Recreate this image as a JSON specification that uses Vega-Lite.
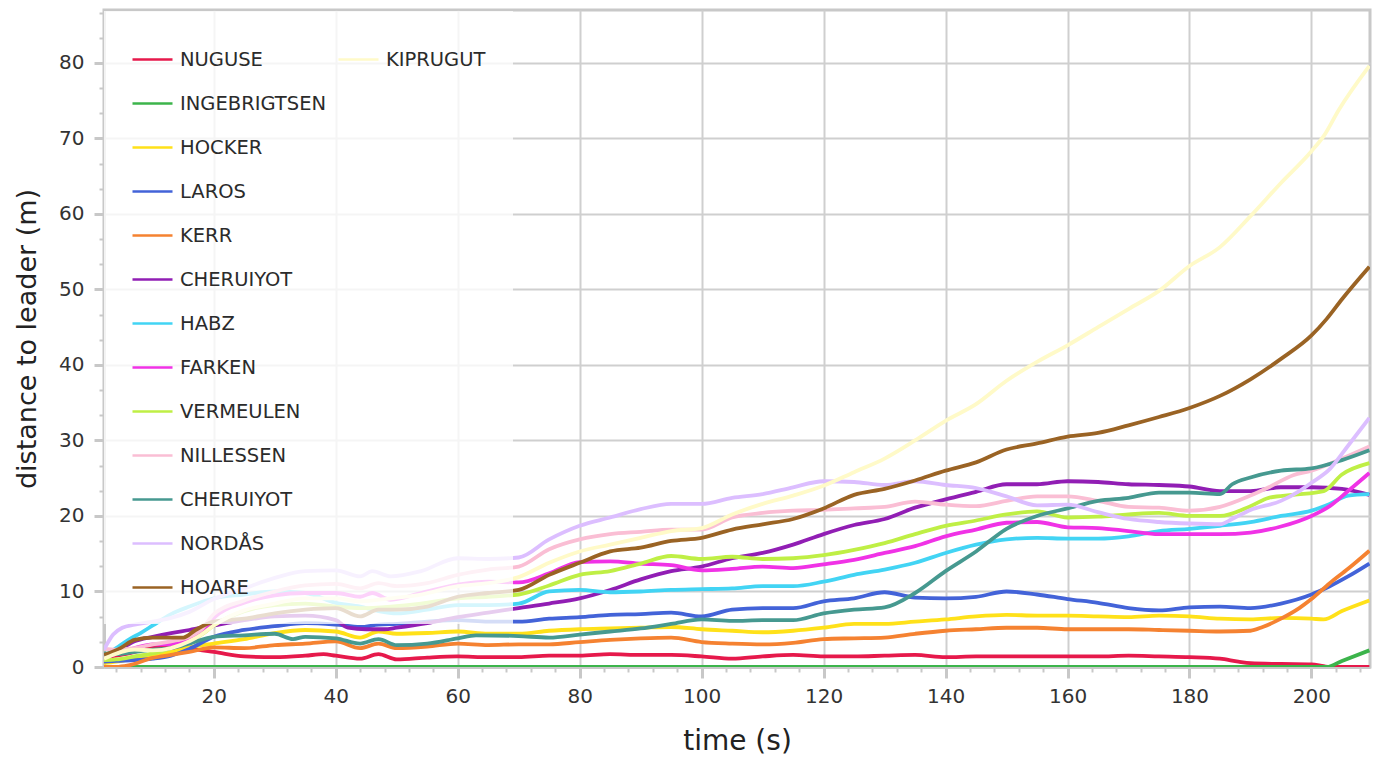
{
  "$schema": "https://vega.github.io/schema/vega-lite/v6.json",
  "width": 1266,
  "height": 657,
  "autosize": {"type": "none"},
  "padding": {"left": 104, "top": 10, "right": 7, "bottom": 95},
  "config": {
    "font": "DejaVu Sans",
    "view": {"stroke": "#c8c8c8", "strokeWidth": 3}
  },
  "data": {
    "values": [
      {"r":"NUGUSE","t":2,"d":1.3},{"r":"NUGUSE","t":4,"d":1.5},{"r":"NUGUSE","t":7,"d":2.0},{"r":"NUGUSE","t":10,"d":2.6},{"r":"NUGUSE","t":13,"d":2.5},{"r":"NUGUSE","t":16,"d":2.4},{"r":"NUGUSE","t":20,"d":2.0},{"r":"NUGUSE","t":25,"d":1.4},{"r":"NUGUSE","t":30,"d":1.3},{"r":"NUGUSE","t":35,"d":1.5},{"r":"NUGUSE","t":38,"d":1.7},{"r":"NUGUSE","t":40,"d":1.5},{"r":"NUGUSE","t":44,"d":1.1},{"r":"NUGUSE","t":47,"d":1.7},{"r":"NUGUSE","t":50,"d":1.0},{"r":"NUGUSE","t":55,"d":1.25},{"r":"NUGUSE","t":60,"d":1.4},{"r":"NUGUSE","t":65,"d":1.3},{"r":"NUGUSE","t":70,"d":1.3},{"r":"NUGUSE","t":75,"d":1.5},{"r":"NUGUSE","t":80,"d":1.5},{"r":"NUGUSE","t":85,"d":1.7},{"r":"NUGUSE","t":90,"d":1.6},{"r":"NUGUSE","t":95,"d":1.6},{"r":"NUGUSE","t":100,"d":1.4},{"r":"NUGUSE","t":105,"d":1.1},{"r":"NUGUSE","t":110,"d":1.4},{"r":"NUGUSE","t":115,"d":1.6},{"r":"NUGUSE","t":120,"d":1.4},{"r":"NUGUSE","t":125,"d":1.4},{"r":"NUGUSE","t":130,"d":1.5},{"r":"NUGUSE","t":135,"d":1.6},{"r":"NUGUSE","t":140,"d":1.3},{"r":"NUGUSE","t":145,"d":1.4},{"r":"NUGUSE","t":150,"d":1.4},{"r":"NUGUSE","t":155,"d":1.4},{"r":"NUGUSE","t":160,"d":1.4},{"r":"NUGUSE","t":165,"d":1.4},{"r":"NUGUSE","t":170,"d":1.5},{"r":"NUGUSE","t":175,"d":1.4},{"r":"NUGUSE","t":180,"d":1.3},{"r":"NUGUSE","t":185,"d":1.1},{"r":"NUGUSE","t":188,"d":0.7},{"r":"NUGUSE","t":190,"d":0.5},{"r":"NUGUSE","t":195,"d":0.4},{"r":"NUGUSE","t":200,"d":0.35},{"r":"NUGUSE","t":202,"d":0.1},{"r":"NUGUSE","t":203,"d":0},{"r":"NUGUSE","t":206,"d":0},{"r":"NUGUSE","t":209.5,"d":0},

      {"r":"INGEBRIGTSEN","t":2,"d":0},{"r":"INGEBRIGTSEN","t":50,"d":0},{"r":"INGEBRIGTSEN","t":100,"d":0},{"r":"INGEBRIGTSEN","t":150,"d":0},{"r":"INGEBRIGTSEN","t":200,"d":0},{"r":"INGEBRIGTSEN","t":202.5,"d":0},{"r":"INGEBRIGTSEN","t":205,"d":0.8},{"r":"INGEBRIGTSEN","t":209.5,"d":2.2},

      {"r":"HOCKER","t":2,"d":0.5},{"r":"HOCKER","t":4,"d":0.7},{"r":"HOCKER","t":7,"d":1.1},{"r":"HOCKER","t":10,"d":1.4},{"r":"HOCKER","t":13,"d":2.0},{"r":"HOCKER","t":16,"d":2.6},{"r":"HOCKER","t":20,"d":3.1},{"r":"HOCKER","t":25,"d":3.7},{"r":"HOCKER","t":30,"d":4.5},{"r":"HOCKER","t":35,"d":4.9},{"r":"HOCKER","t":40,"d":4.7},{"r":"HOCKER","t":44,"d":3.9},{"r":"HOCKER","t":47,"d":4.7},{"r":"HOCKER","t":50,"d":4.4},{"r":"HOCKER","t":55,"d":4.5},{"r":"HOCKER","t":60,"d":4.7},{"r":"HOCKER","t":65,"d":4.4},{"r":"HOCKER","t":70,"d":4.4},{"r":"HOCKER","t":75,"d":4.8},{"r":"HOCKER","t":80,"d":5.0},{"r":"HOCKER","t":85,"d":5.1},{"r":"HOCKER","t":90,"d":5.2},{"r":"HOCKER","t":95,"d":5.3},{"r":"HOCKER","t":100,"d":5.0},{"r":"HOCKER","t":105,"d":4.8},{"r":"HOCKER","t":110,"d":4.6},{"r":"HOCKER","t":115,"d":4.8},{"r":"HOCKER","t":120,"d":5.2},{"r":"HOCKER","t":125,"d":5.7},{"r":"HOCKER","t":130,"d":5.7},{"r":"HOCKER","t":135,"d":6.0},{"r":"HOCKER","t":140,"d":6.3},{"r":"HOCKER","t":145,"d":6.7},{"r":"HOCKER","t":150,"d":6.9},{"r":"HOCKER","t":155,"d":6.8},{"r":"HOCKER","t":160,"d":6.8},{"r":"HOCKER","t":165,"d":6.7},{"r":"HOCKER","t":170,"d":6.6},{"r":"HOCKER","t":175,"d":6.8},{"r":"HOCKER","t":180,"d":6.7},{"r":"HOCKER","t":185,"d":6.4},{"r":"HOCKER","t":190,"d":6.3},{"r":"HOCKER","t":195,"d":6.5},{"r":"HOCKER","t":200,"d":6.4},{"r":"HOCKER","t":202,"d":6.3},{"r":"HOCKER","t":205,"d":7.4},{"r":"HOCKER","t":209.5,"d":8.8},

      {"r":"LAROS","t":2,"d":0.7},{"r":"LAROS","t":4,"d":0.8},{"r":"LAROS","t":7,"d":0.9},{"r":"LAROS","t":10,"d":1.1},{"r":"LAROS","t":13,"d":1.5},{"r":"LAROS","t":16,"d":2.4},{"r":"LAROS","t":20,"d":4.0},{"r":"LAROS","t":25,"d":4.9},{"r":"LAROS","t":30,"d":5.4},{"r":"LAROS","t":35,"d":5.8},{"r":"LAROS","t":40,"d":5.6},{"r":"LAROS","t":44,"d":5.3},{"r":"LAROS","t":47,"d":5.6},{"r":"LAROS","t":50,"d":5.7},{"r":"LAROS","t":55,"d":6.0},{"r":"LAROS","t":60,"d":6.2},{"r":"LAROS","t":65,"d":6.0},{"r":"LAROS","t":70,"d":6.0},{"r":"LAROS","t":75,"d":6.4},{"r":"LAROS","t":80,"d":6.6},{"r":"LAROS","t":85,"d":6.9},{"r":"LAROS","t":90,"d":7.0},{"r":"LAROS","t":95,"d":7.2},{"r":"LAROS","t":100,"d":6.7},{"r":"LAROS","t":105,"d":7.6},{"r":"LAROS","t":110,"d":7.8},{"r":"LAROS","t":115,"d":7.8},{"r":"LAROS","t":120,"d":8.7},{"r":"LAROS","t":125,"d":9.1},{"r":"LAROS","t":130,"d":9.9},{"r":"LAROS","t":135,"d":9.2},{"r":"LAROS","t":140,"d":9.1},{"r":"LAROS","t":145,"d":9.3},{"r":"LAROS","t":150,"d":10.0},{"r":"LAROS","t":155,"d":9.6},{"r":"LAROS","t":160,"d":9.0},{"r":"LAROS","t":165,"d":8.5},{"r":"LAROS","t":170,"d":7.8},{"r":"LAROS","t":175,"d":7.5},{"r":"LAROS","t":180,"d":7.9},{"r":"LAROS","t":185,"d":8.0},{"r":"LAROS","t":190,"d":7.8},{"r":"LAROS","t":195,"d":8.4},{"r":"LAROS","t":200,"d":9.6},{"r":"LAROS","t":203,"d":10.7},{"r":"LAROS","t":206,"d":12.0},{"r":"LAROS","t":209.5,"d":13.7},

      {"r":"KERR","t":2,"d":0},{"r":"KERR","t":4,"d":0},{"r":"KERR","t":6,"d":0.2},{"r":"KERR","t":10,"d":1.2},{"r":"KERR","t":13,"d":1.6},{"r":"KERR","t":16,"d":2.0},{"r":"KERR","t":20,"d":2.6},{"r":"KERR","t":25,"d":2.5},{"r":"KERR","t":30,"d":2.9},{"r":"KERR","t":35,"d":3.1},{"r":"KERR","t":40,"d":3.4},{"r":"KERR","t":44,"d":2.5},{"r":"KERR","t":47,"d":3.1},{"r":"KERR","t":50,"d":2.5},{"r":"KERR","t":55,"d":2.7},{"r":"KERR","t":60,"d":3.1},{"r":"KERR","t":65,"d":2.9},{"r":"KERR","t":70,"d":3.0},{"r":"KERR","t":75,"d":3.0},{"r":"KERR","t":80,"d":3.3},{"r":"KERR","t":85,"d":3.6},{"r":"KERR","t":90,"d":3.8},{"r":"KERR","t":95,"d":3.9},{"r":"KERR","t":100,"d":3.3},{"r":"KERR","t":105,"d":3.1},{"r":"KERR","t":110,"d":3.0},{"r":"KERR","t":115,"d":3.2},{"r":"KERR","t":120,"d":3.7},{"r":"KERR","t":125,"d":3.8},{"r":"KERR","t":130,"d":3.9},{"r":"KERR","t":135,"d":4.4},{"r":"KERR","t":140,"d":4.8},{"r":"KERR","t":145,"d":5.0},{"r":"KERR","t":150,"d":5.2},{"r":"KERR","t":155,"d":5.2},{"r":"KERR","t":160,"d":5.0},{"r":"KERR","t":165,"d":5.0},{"r":"KERR","t":170,"d":5.0},{"r":"KERR","t":175,"d":4.9},{"r":"KERR","t":180,"d":4.8},{"r":"KERR","t":185,"d":4.7},{"r":"KERR","t":190,"d":4.8},{"r":"KERR","t":192,"d":5.3},{"r":"KERR","t":195,"d":6.4},{"r":"KERR","t":198,"d":7.8},{"r":"KERR","t":200,"d":9.0},{"r":"KERR","t":203,"d":11.1},{"r":"KERR","t":206,"d":13.0},{"r":"KERR","t":209.5,"d":15.4},

      {"r":"CHERUIYOT","t":2,"d":1.1},{"r":"CHERUIYOT","t":4,"d":2.0},{"r":"CHERUIYOT","t":7,"d":3.4},{"r":"CHERUIYOT","t":10,"d":4.0},{"r":"CHERUIYOT","t":13,"d":4.5},{"r":"CHERUIYOT","t":16,"d":4.9},{"r":"CHERUIYOT","t":20,"d":5.5},{"r":"CHERUIYOT","t":25,"d":6.2},{"r":"CHERUIYOT","t":30,"d":6.7},{"r":"CHERUIYOT","t":35,"d":6.8},{"r":"CHERUIYOT","t":40,"d":6.2},{"r":"CHERUIYOT","t":42,"d":5.2},{"r":"CHERUIYOT","t":45,"d":5.0},{"r":"CHERUIYOT","t":48,"d":5.0},{"r":"CHERUIYOT","t":50,"d":5.2},{"r":"CHERUIYOT","t":55,"d":5.8},{"r":"CHERUIYOT","t":60,"d":6.6},{"r":"CHERUIYOT","t":65,"d":7.2},{"r":"CHERUIYOT","t":70,"d":7.8},{"r":"CHERUIYOT","t":75,"d":8.4},{"r":"CHERUIYOT","t":80,"d":9.1},{"r":"CHERUIYOT","t":85,"d":10.2},{"r":"CHERUIYOT","t":90,"d":11.6},{"r":"CHERUIYOT","t":95,"d":12.7},{"r":"CHERUIYOT","t":100,"d":13.3},{"r":"CHERUIYOT","t":105,"d":14.4},{"r":"CHERUIYOT","t":110,"d":15.1},{"r":"CHERUIYOT","t":115,"d":16.2},{"r":"CHERUIYOT","t":120,"d":17.6},{"r":"CHERUIYOT","t":125,"d":18.8},{"r":"CHERUIYOT","t":130,"d":19.6},{"r":"CHERUIYOT","t":135,"d":21.1},{"r":"CHERUIYOT","t":140,"d":22.2},{"r":"CHERUIYOT","t":145,"d":23.2},{"r":"CHERUIYOT","t":150,"d":24.2},{"r":"CHERUIYOT","t":155,"d":24.2},{"r":"CHERUIYOT","t":160,"d":24.6},{"r":"CHERUIYOT","t":165,"d":24.5},{"r":"CHERUIYOT","t":170,"d":24.2},{"r":"CHERUIYOT","t":175,"d":24.1},{"r":"CHERUIYOT","t":180,"d":23.9},{"r":"CHERUIYOT","t":185,"d":23.3},{"r":"CHERUIYOT","t":190,"d":23.3},{"r":"CHERUIYOT","t":195,"d":23.8},{"r":"CHERUIYOT","t":200,"d":23.8},{"r":"CHERUIYOT","t":205,"d":23.6},{"r":"CHERUIYOT","t":209.5,"d":22.8},

      {"r":"HABZ","t":2,"d":1.4},{"r":"HABZ","t":4,"d":2.5},{"r":"HABZ","t":6,"d":3.6},{"r":"HABZ","t":8,"d":4.5},{"r":"HABZ","t":10,"d":5.5},{"r":"HABZ","t":13,"d":7.0},{"r":"HABZ","t":16,"d":8.0},{"r":"HABZ","t":20,"d":9.1},{"r":"HABZ","t":25,"d":9.6},{"r":"HABZ","t":30,"d":10.0},{"r":"HABZ","t":35,"d":9.8},{"r":"HABZ","t":40,"d":8.5},{"r":"HABZ","t":44,"d":8.0},{"r":"HABZ","t":47,"d":7.4},{"r":"HABZ","t":50,"d":7.1},{"r":"HABZ","t":55,"d":7.6},{"r":"HABZ","t":60,"d":8.2},{"r":"HABZ","t":65,"d":8.2},{"r":"HABZ","t":70,"d":8.4},{"r":"HABZ","t":75,"d":10.0},{"r":"HABZ","t":80,"d":10.2},{"r":"HABZ","t":85,"d":9.9},{"r":"HABZ","t":90,"d":10.0},{"r":"HABZ","t":95,"d":10.2},{"r":"HABZ","t":100,"d":10.3},{"r":"HABZ","t":105,"d":10.4},{"r":"HABZ","t":110,"d":10.7},{"r":"HABZ","t":115,"d":10.7},{"r":"HABZ","t":120,"d":11.3},{"r":"HABZ","t":125,"d":12.2},{"r":"HABZ","t":130,"d":12.9},{"r":"HABZ","t":135,"d":13.8},{"r":"HABZ","t":140,"d":15.1},{"r":"HABZ","t":145,"d":16.2},{"r":"HABZ","t":150,"d":16.9},{"r":"HABZ","t":155,"d":17.1},{"r":"HABZ","t":160,"d":17.0},{"r":"HABZ","t":165,"d":17.0},{"r":"HABZ","t":170,"d":17.3},{"r":"HABZ","t":175,"d":18.0},{"r":"HABZ","t":180,"d":18.3},{"r":"HABZ","t":185,"d":18.7},{"r":"HABZ","t":190,"d":19.2},{"r":"HABZ","t":195,"d":20.0},{"r":"HABZ","t":200,"d":20.7},{"r":"HABZ","t":203,"d":21.6},{"r":"HABZ","t":206,"d":22.7},{"r":"HABZ","t":209.5,"d":22.9},

      {"r":"FARKEN","t":2,"d":1.1},{"r":"FARKEN","t":4,"d":1.8},{"r":"FARKEN","t":7,"d":2.5},{"r":"FARKEN","t":10,"d":3.0},{"r":"FARKEN","t":13,"d":3.0},{"r":"FARKEN","t":16,"d":3.6},{"r":"FARKEN","t":18,"d":4.6},{"r":"FARKEN","t":20,"d":6.5},{"r":"FARKEN","t":25,"d":8.5},{"r":"FARKEN","t":30,"d":9.5},{"r":"FARKEN","t":35,"d":9.8},{"r":"FARKEN","t":40,"d":9.8},{"r":"FARKEN","t":44,"d":9.3},{"r":"FARKEN","t":46,"d":9.8},{"r":"FARKEN","t":49,"d":8.9},{"r":"FARKEN","t":54,"d":9.8},{"r":"FARKEN","t":60,"d":10.9},{"r":"FARKEN","t":65,"d":11.3},{"r":"FARKEN","t":70,"d":11.2},{"r":"FARKEN","t":75,"d":12.4},{"r":"FARKEN","t":80,"d":13.9},{"r":"FARKEN","t":85,"d":14.0},{"r":"FARKEN","t":90,"d":13.7},{"r":"FARKEN","t":95,"d":13.5},{"r":"FARKEN","t":100,"d":12.8},{"r":"FARKEN","t":105,"d":13.0},{"r":"FARKEN","t":110,"d":13.3},{"r":"FARKEN","t":115,"d":13.1},{"r":"FARKEN","t":120,"d":13.6},{"r":"FARKEN","t":125,"d":14.2},{"r":"FARKEN","t":130,"d":15.1},{"r":"FARKEN","t":135,"d":16.0},{"r":"FARKEN","t":140,"d":17.3},{"r":"FARKEN","t":145,"d":18.2},{"r":"FARKEN","t":150,"d":19.1},{"r":"FARKEN","t":155,"d":19.2},{"r":"FARKEN","t":160,"d":18.5},{"r":"FARKEN","t":165,"d":18.4},{"r":"FARKEN","t":170,"d":18.0},{"r":"FARKEN","t":175,"d":17.6},{"r":"FARKEN","t":180,"d":17.6},{"r":"FARKEN","t":185,"d":17.6},{"r":"FARKEN","t":190,"d":17.8},{"r":"FARKEN","t":195,"d":18.6},{"r":"FARKEN","t":200,"d":20.0},{"r":"FARKEN","t":203,"d":21.3},{"r":"FARKEN","t":206,"d":23.3},{"r":"FARKEN","t":209.5,"d":25.7},

      {"r":"VERMEULEN","t":2,"d":0.9},{"r":"VERMEULEN","t":4,"d":1.0},{"r":"VERMEULEN","t":7,"d":1.4},{"r":"VERMEULEN","t":10,"d":1.8},{"r":"VERMEULEN","t":13,"d":2.5},{"r":"VERMEULEN","t":16,"d":3.3},{"r":"VERMEULEN","t":18,"d":4.3},{"r":"VERMEULEN","t":20,"d":5.5},{"r":"VERMEULEN","t":25,"d":7.4},{"r":"VERMEULEN","t":30,"d":8.2},{"r":"VERMEULEN","t":35,"d":8.4},{"r":"VERMEULEN","t":40,"d":8.0},{"r":"VERMEULEN","t":44,"d":7.8},{"r":"VERMEULEN","t":49,"d":8.0},{"r":"VERMEULEN","t":54,"d":8.4},{"r":"VERMEULEN","t":60,"d":9.1},{"r":"VERMEULEN","t":65,"d":9.3},{"r":"VERMEULEN","t":70,"d":9.6},{"r":"VERMEULEN","t":75,"d":10.8},{"r":"VERMEULEN","t":80,"d":12.2},{"r":"VERMEULEN","t":85,"d":12.7},{"r":"VERMEULEN","t":90,"d":13.7},{"r":"VERMEULEN","t":95,"d":14.7},{"r":"VERMEULEN","t":100,"d":14.3},{"r":"VERMEULEN","t":105,"d":14.6},{"r":"VERMEULEN","t":110,"d":14.3},{"r":"VERMEULEN","t":115,"d":14.4},{"r":"VERMEULEN","t":120,"d":14.8},{"r":"VERMEULEN","t":125,"d":15.5},{"r":"VERMEULEN","t":130,"d":16.4},{"r":"VERMEULEN","t":135,"d":17.6},{"r":"VERMEULEN","t":140,"d":18.7},{"r":"VERMEULEN","t":145,"d":19.4},{"r":"VERMEULEN","t":150,"d":20.2},{"r":"VERMEULEN","t":155,"d":20.6},{"r":"VERMEULEN","t":160,"d":19.8},{"r":"VERMEULEN","t":165,"d":19.9},{"r":"VERMEULEN","t":170,"d":20.2},{"r":"VERMEULEN","t":175,"d":20.4},{"r":"VERMEULEN","t":180,"d":20.0},{"r":"VERMEULEN","t":185,"d":20.0},{"r":"VERMEULEN","t":190,"d":21.3},{"r":"VERMEULEN","t":193,"d":22.4},{"r":"VERMEULEN","t":197,"d":22.8},{"r":"VERMEULEN","t":202,"d":23.3},{"r":"VERMEULEN","t":205,"d":25.5},{"r":"VERMEULEN","t":209.5,"d":27.0},

      {"r":"NILLESSEN","t":2,"d":2.4},{"r":"NILLESSEN","t":4,"d":2.3},{"r":"NILLESSEN","t":7,"d":2.5},{"r":"NILLESSEN","t":10,"d":3.0},{"r":"NILLESSEN","t":13,"d":3.4},{"r":"NILLESSEN","t":16,"d":4.0},{"r":"NILLESSEN","t":18,"d":5.0},{"r":"NILLESSEN","t":20,"d":7.0},{"r":"NILLESSEN","t":25,"d":8.8},{"r":"NILLESSEN","t":30,"d":10.0},{"r":"NILLESSEN","t":35,"d":10.8},{"r":"NILLESSEN","t":40,"d":11.0},{"r":"NILLESSEN","t":44,"d":10.4},{"r":"NILLESSEN","t":47,"d":11.1},{"r":"NILLESSEN","t":50,"d":10.7},{"r":"NILLESSEN","t":55,"d":11.1},{"r":"NILLESSEN","t":60,"d":12.2},{"r":"NILLESSEN","t":65,"d":12.9},{"r":"NILLESSEN","t":70,"d":13.3},{"r":"NILLESSEN","t":75,"d":15.6},{"r":"NILLESSEN","t":80,"d":16.9},{"r":"NILLESSEN","t":85,"d":17.6},{"r":"NILLESSEN","t":90,"d":17.9},{"r":"NILLESSEN","t":95,"d":18.2},{"r":"NILLESSEN","t":100,"d":18.2},{"r":"NILLESSEN","t":105,"d":19.8},{"r":"NILLESSEN","t":110,"d":20.4},{"r":"NILLESSEN","t":115,"d":20.7},{"r":"NILLESSEN","t":120,"d":20.8},{"r":"NILLESSEN","t":125,"d":21.0},{"r":"NILLESSEN","t":130,"d":21.2},{"r":"NILLESSEN","t":135,"d":21.9},{"r":"NILLESSEN","t":140,"d":21.5},{"r":"NILLESSEN","t":145,"d":21.3},{"r":"NILLESSEN","t":150,"d":22.0},{"r":"NILLESSEN","t":155,"d":22.6},{"r":"NILLESSEN","t":160,"d":22.6},{"r":"NILLESSEN","t":165,"d":22.0},{"r":"NILLESSEN","t":170,"d":21.2},{"r":"NILLESSEN","t":175,"d":21.1},{"r":"NILLESSEN","t":180,"d":20.7},{"r":"NILLESSEN","t":185,"d":21.2},{"r":"NILLESSEN","t":190,"d":22.7},{"r":"NILLESSEN","t":193,"d":23.8},{"r":"NILLESSEN","t":197,"d":25.4},{"r":"NILLESSEN","t":200,"d":26.0},{"r":"NILLESSEN","t":205,"d":27.6},{"r":"NILLESSEN","t":209.5,"d":29.2},

      {"r":"CHERUIYOT_B","t":2,"d":1.8},{"r":"CHERUIYOT_B","t":4,"d":1.7},{"r":"CHERUIYOT_B","t":7,"d":2.0},{"r":"CHERUIYOT_B","t":10,"d":2.3},{"r":"CHERUIYOT_B","t":13,"d":2.5},{"r":"CHERUIYOT_B","t":16,"d":3.1},{"r":"CHERUIYOT_B","t":20,"d":4.0},{"r":"CHERUIYOT_B","t":25,"d":4.2},{"r":"CHERUIYOT_B","t":30,"d":4.4},{"r":"CHERUIYOT_B","t":33,"d":3.7},{"r":"CHERUIYOT_B","t":35,"d":4.0},{"r":"CHERUIYOT_B","t":40,"d":3.8},{"r":"CHERUIYOT_B","t":44,"d":3.1},{"r":"CHERUIYOT_B","t":47,"d":3.7},{"r":"CHERUIYOT_B","t":50,"d":2.9},{"r":"CHERUIYOT_B","t":55,"d":3.1},{"r":"CHERUIYOT_B","t":60,"d":3.8},{"r":"CHERUIYOT_B","t":63,"d":4.2},{"r":"CHERUIYOT_B","t":70,"d":4.1},{"r":"CHERUIYOT_B","t":75,"d":3.9},{"r":"CHERUIYOT_B","t":80,"d":4.3},{"r":"CHERUIYOT_B","t":85,"d":4.7},{"r":"CHERUIYOT_B","t":90,"d":5.1},{"r":"CHERUIYOT_B","t":95,"d":5.7},{"r":"CHERUIYOT_B","t":100,"d":6.3},{"r":"CHERUIYOT_B","t":105,"d":6.1},{"r":"CHERUIYOT_B","t":110,"d":6.2},{"r":"CHERUIYOT_B","t":115,"d":6.2},{"r":"CHERUIYOT_B","t":120,"d":7.1},{"r":"CHERUIYOT_B","t":125,"d":7.6},{"r":"CHERUIYOT_B","t":130,"d":7.9},{"r":"CHERUIYOT_B","t":135,"d":9.8},{"r":"CHERUIYOT_B","t":140,"d":12.7},{"r":"CHERUIYOT_B","t":145,"d":15.3},{"r":"CHERUIYOT_B","t":150,"d":18.3},{"r":"CHERUIYOT_B","t":155,"d":20.0},{"r":"CHERUIYOT_B","t":160,"d":21.0},{"r":"CHERUIYOT_B","t":165,"d":22.0},{"r":"CHERUIYOT_B","t":170,"d":22.4},{"r":"CHERUIYOT_B","t":175,"d":23.1},{"r":"CHERUIYOT_B","t":180,"d":23.1},{"r":"CHERUIYOT_B","t":185,"d":22.9},{"r":"CHERUIYOT_B","t":187,"d":24.2},{"r":"CHERUIYOT_B","t":190,"d":25.1},{"r":"CHERUIYOT_B","t":195,"d":26.0},{"r":"CHERUIYOT_B","t":200,"d":26.3},{"r":"CHERUIYOT_B","t":205,"d":27.4},{"r":"CHERUIYOT_B","t":209.5,"d":28.7},

      {"r":"NORDÅS","t":2,"d":2.3},{"r":"NORDÅS","t":3.5,"d":4.3},{"r":"NORDÅS","t":5,"d":5.2},{"r":"NORDÅS","t":7,"d":5.6},{"r":"NORDÅS","t":10,"d":6.0},{"r":"NORDÅS","t":13,"d":6.5},{"r":"NORDÅS","t":16,"d":7.3},{"r":"NORDÅS","t":20,"d":9.0},{"r":"NORDÅS","t":25,"d":10.4},{"r":"NORDÅS","t":30,"d":11.8},{"r":"NORDÅS","t":35,"d":12.7},{"r":"NORDÅS","t":40,"d":12.8},{"r":"NORDÅS","t":44,"d":12.0},{"r":"NORDÅS","t":46,"d":12.7},{"r":"NORDÅS","t":49,"d":12.0},{"r":"NORDÅS","t":54,"d":12.7},{"r":"NORDÅS","t":60,"d":14.4},{"r":"NORDÅS","t":65,"d":14.3},{"r":"NORDÅS","t":70,"d":14.5},{"r":"NORDÅS","t":75,"d":16.9},{"r":"NORDÅS","t":80,"d":18.7},{"r":"NORDÅS","t":85,"d":19.8},{"r":"NORDÅS","t":90,"d":20.9},{"r":"NORDÅS","t":95,"d":21.6},{"r":"NORDÅS","t":100,"d":21.6},{"r":"NORDÅS","t":105,"d":22.4},{"r":"NORDÅS","t":110,"d":22.9},{"r":"NORDÅS","t":115,"d":23.8},{"r":"NORDÅS","t":120,"d":24.6},{"r":"NORDÅS","t":125,"d":24.5},{"r":"NORDÅS","t":130,"d":24.1},{"r":"NORDÅS","t":135,"d":24.6},{"r":"NORDÅS","t":140,"d":24.1},{"r":"NORDÅS","t":145,"d":23.7},{"r":"NORDÅS","t":150,"d":22.6},{"r":"NORDÅS","t":155,"d":21.4},{"r":"NORDÅS","t":160,"d":21.5},{"r":"NORDÅS","t":165,"d":20.5},{"r":"NORDÅS","t":170,"d":19.6},{"r":"NORDÅS","t":175,"d":19.2},{"r":"NORDÅS","t":180,"d":19.0},{"r":"NORDÅS","t":185,"d":18.9},{"r":"NORDÅS","t":187,"d":19.6},{"r":"NORDÅS","t":190,"d":20.8},{"r":"NORDÅS","t":195,"d":22.0},{"r":"NORDÅS","t":198,"d":23.3},{"r":"NORDÅS","t":200,"d":24.4},{"r":"NORDÅS","t":203,"d":26.2},{"r":"NORDÅS","t":206,"d":29.3},{"r":"NORDÅS","t":209.5,"d":33.0},

      {"r":"HOARE","t":2,"d":1.6},{"r":"HOARE","t":4.7,"d":2.5},{"r":"HOARE","t":7,"d":3.6},{"r":"HOARE","t":10,"d":3.9},{"r":"HOARE","t":15,"d":3.9},{"r":"HOARE","t":17,"d":4.9},{"r":"HOARE","t":20,"d":6.0},{"r":"HOARE","t":25,"d":6.4},{"r":"HOARE","t":30,"d":7.1},{"r":"HOARE","t":35,"d":7.6},{"r":"HOARE","t":40,"d":7.8},{"r":"HOARE","t":44,"d":6.7},{"r":"HOARE","t":47,"d":7.6},{"r":"HOARE","t":50,"d":7.6},{"r":"HOARE","t":55,"d":8.0},{"r":"HOARE","t":60,"d":9.3},{"r":"HOARE","t":65,"d":9.8},{"r":"HOARE","t":70,"d":10.2},{"r":"HOARE","t":75,"d":12.2},{"r":"HOARE","t":80,"d":13.8},{"r":"HOARE","t":85,"d":15.3},{"r":"HOARE","t":90,"d":15.8},{"r":"HOARE","t":95,"d":16.7},{"r":"HOARE","t":100,"d":17.1},{"r":"HOARE","t":105,"d":18.2},{"r":"HOARE","t":110,"d":18.9},{"r":"HOARE","t":115,"d":19.6},{"r":"HOARE","t":120,"d":21.0},{"r":"HOARE","t":125,"d":22.8},{"r":"HOARE","t":130,"d":23.6},{"r":"HOARE","t":135,"d":24.7},{"r":"HOARE","t":140,"d":26.0},{"r":"HOARE","t":145,"d":27.1},{"r":"HOARE","t":150,"d":28.8},{"r":"HOARE","t":155,"d":29.6},{"r":"HOARE","t":160,"d":30.5},{"r":"HOARE","t":165,"d":31.0},{"r":"HOARE","t":170,"d":32.0},{"r":"HOARE","t":175,"d":33.1},{"r":"HOARE","t":180,"d":34.3},{"r":"HOARE","t":185,"d":35.9},{"r":"HOARE","t":190,"d":38.1},{"r":"HOARE","t":195,"d":40.8},{"r":"HOARE","t":200,"d":43.9},{"r":"HOARE","t":202.5,"d":46.1},{"r":"HOARE","t":205,"d":48.7},{"r":"HOARE","t":209.5,"d":53.0},

      {"r":"KIPRUGUT","t":2,"d":1.1},{"r":"KIPRUGUT","t":7,"d":2.3},{"r":"KIPRUGUT","t":10,"d":2.2},{"r":"KIPRUGUT","t":13,"d":2.5},{"r":"KIPRUGUT","t":16,"d":3.4},{"r":"KIPRUGUT","t":18,"d":4.3},{"r":"KIPRUGUT","t":20,"d":5.5},{"r":"KIPRUGUT","t":25,"d":7.5},{"r":"KIPRUGUT","t":30,"d":8.4},{"r":"KIPRUGUT","t":35,"d":9.1},{"r":"KIPRUGUT","t":40,"d":9.1},{"r":"KIPRUGUT","t":44,"d":8.7},{"r":"KIPRUGUT","t":49,"d":9.1},{"r":"KIPRUGUT","t":54,"d":9.6},{"r":"KIPRUGUT","t":60,"d":10.7},{"r":"KIPRUGUT","t":65,"d":11.1},{"r":"KIPRUGUT","t":70,"d":11.9},{"r":"KIPRUGUT","t":75,"d":13.8},{"r":"KIPRUGUT","t":80,"d":15.3},{"r":"KIPRUGUT","t":85,"d":16.2},{"r":"KIPRUGUT","t":90,"d":17.1},{"r":"KIPRUGUT","t":95,"d":18.0},{"r":"KIPRUGUT","t":100,"d":18.4},{"r":"KIPRUGUT","t":105,"d":20.2},{"r":"KIPRUGUT","t":110,"d":21.6},{"r":"KIPRUGUT","t":115,"d":22.7},{"r":"KIPRUGUT","t":120,"d":24.0},{"r":"KIPRUGUT","t":125,"d":25.8},{"r":"KIPRUGUT","t":130,"d":27.6},{"r":"KIPRUGUT","t":135,"d":30.0},{"r":"KIPRUGUT","t":140,"d":32.6},{"r":"KIPRUGUT","t":145,"d":34.8},{"r":"KIPRUGUT","t":150,"d":37.9},{"r":"KIPRUGUT","t":155,"d":40.4},{"r":"KIPRUGUT","t":160,"d":42.6},{"r":"KIPRUGUT","t":165,"d":45.0},{"r":"KIPRUGUT","t":170,"d":47.4},{"r":"KIPRUGUT","t":175,"d":49.8},{"r":"KIPRUGUT","t":180,"d":53.1},{"r":"KIPRUGUT","t":185,"d":55.6},{"r":"KIPRUGUT","t":190,"d":59.7},{"r":"KIPRUGUT","t":195,"d":64.1},{"r":"KIPRUGUT","t":200,"d":68.3},{"r":"KIPRUGUT","t":202,"d":70.3},{"r":"KIPRUGUT","t":204.5,"d":73.8},{"r":"KIPRUGUT","t":209.5,"d":79.6}
    ]
  },
  "mark": {"type": "line", "strokeWidth": 3.8, "interpolate": "monotone", "clip": true},
  "encoding": {
    "x": {
      "field": "t",
      "type": "quantitative",
      "scale": {"domain": [2, 209.6], "nice": false, "zero": false},
      "axis": {
        "title": "time (s)",
        "values": [4,8,12,16,20,24,28,32,36,40,44,48,52,56,60,64,68,72,76,80,84,88,92,96,100,104,108,112,116,120,124,128,132,136,140,144,148,152,156,160,164,168,172,176,180,184,188,192,196,200,204,208],
        "labelExpr": "datum.value % 20 === 0 ? datum.label : ''",
        "labelOverlap": false,
        "labelBound": false,
        "labelFlush": false,
        "labelFontSize": 20,
        "labelColor": "#333333",
        "labelPadding": 8,
        "tickColor": "#c8c8c8",
        "tickSize": {"condition": {"test": "datum.value % 20 === 0", "value": 11}, "value": 5},
        "tickWidth": {"condition": {"test": "datum.value % 20 === 0", "value": 3}, "value": 2},
        "gridColor": "#cfcfcf",
        "gridWidth": 2,
        "gridOpacity": {"condition": {"test": "datum.value % 20 === 0", "value": 1}, "value": 0},
        "domainColor": "#c8c8c8",
        "domainWidth": 3,
        "titleFontSize": 28,
        "titleFontWeight": "normal",
        "titleColor": "#222222",
        "titlePadding": 21
      }
    },
    "y": {
      "field": "d",
      "type": "quantitative",
      "scale": {"domain": [0, 87], "nice": false},
      "axis": {
        "title": "distance to leader (m)",
        "values": [0,3.3333,6.6667,10,13.3333,16.6667,20,23.3333,26.6667,30,33.3333,36.6667,40,43.3333,46.6667,50,53.3333,56.6667,60,63.3333,66.6667,70,73.3333,76.6667,80,83.3333,86.6667],
        "labelExpr": "datum.value % 10 === 0 ? datum.label : ''",
        "labelOverlap": false,
        "labelBound": false,
        "labelFlush": false,
        "labelFontSize": 20,
        "labelColor": "#333333",
        "labelPadding": 10,
        "tickColor": "#c8c8c8",
        "tickSize": {"condition": {"test": "datum.value % 10 === 0", "value": 10}, "value": 5},
        "tickWidth": {"condition": {"test": "datum.value % 10 === 0", "value": 3}, "value": 2},
        "gridColor": "#cfcfcf",
        "gridWidth": 2,
        "gridOpacity": {"condition": {"test": "datum.value % 10 === 0", "value": 1}, "value": 0},
        "domainColor": "#c8c8c8",
        "domainWidth": 3,
        "titleFontSize": 27,
        "titleFontWeight": "normal",
        "titleColor": "#222222",
        "titlePadding": 17
      }
    },
    "color": {
      "field": "r",
      "type": "nominal",
      "scale": {
        "domain": ["NUGUSE","INGEBRIGTSEN","HOCKER","LAROS","KERR","CHERUIYOT","HABZ","FARKEN","VERMEULEN","NILLESSEN","CHERUIYOT_B","NORDÅS","HOARE","KIPRUGUT","_1","_2","_3","_4","_5","_6","_7","_8","_9","_10","_11"],
        "range": ["#e6194b","#3cb44b","#ffe119","#4363d8","#f58231","#911eb4","#42d4f4","#f032e6","#bfef45","#fabed4","#469990","#dcbeff","#9a6324","#fffac8","transparent","transparent","transparent","transparent","transparent","transparent","transparent","transparent","transparent","transparent","transparent"]
      },
      "legend": {
        "title": null,
        "orient": "none",
        "legendX": 0,
        "legendY": 1,
        "direction": "vertical",
        "columns": 2,
        "columnPadding": 6,
        "rowPadding": 13,
        "padding": 27,
        "fillColor": "rgba(255,255,255,0.78)",
        "strokeColor": null,
        "symbolType": "stroke",
        "symbolSize": 1600,
        "symbolStrokeWidth": 2.5,
        "labelFontSize": 19.5,
        "labelColor": "#2b2b2b",
        "labelOffset": 6,
        "labelLimit": 300,
        "labelExpr": "indexof(datum.label, '_') === 0 ? '' : replace(datum.label, '_B', '')"
      }
    }
  }
}
